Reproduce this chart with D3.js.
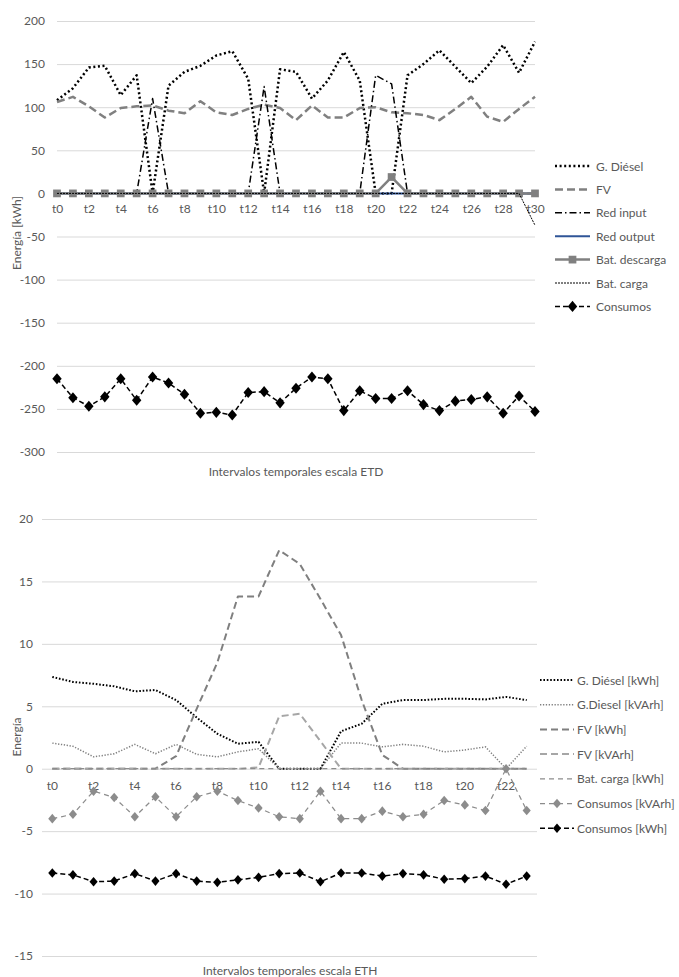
<html>

<head>
    <meta charset="utf-8">
    <script src="https://d3js.org/d3.v7.min.js"></script>
    <style>
        body { margin: 0; background: white; }
        svg text { font-family: Lato, "Open Sans", sans-serif; fill: #595959; }
    </style>
</head>

<body>
    <svg id="chart" width="679" height="977"></svg>
    <script>
        // ---- top chart data (ETD scale, t0..t30) ----
        const etdLabels = d3.range(31).map(i => "t" + i);
        const etdDiesel = [108, 122, 146, 148, 114, 137, 0, 125, 141, 148, 160, 165, 133, 0, 144, 141, 110, 131, 164, 131, 0, 0, 137, 150, 166, 147, 128, 147, 172, 140, 176];
        const etdFV = [106, 112, 101, 88, 99, 101, 102, 96, 93, 107, 94, 91, 98, 103, 99, 85, 102, 88, 88, 99, 100, 94, 93, 91, 85, 98, 112, 89, 83, 98, 112];
        const etdRedIn = [0, 0, 0, 0, 0, 0, 110, 0, 0, 0, 0, 0, 0, 124, 0, 0, 0, 0, 0, 0, 137, 127, 0, 0, 0, 0, 0, 0, 0, 0, 0];
        const etdRedOut = [0, 0, 0, 0, 0, 0, 0, 0, 0, 0, 0, 0, 0, 0, 0, 0, 0, 0, 0, 0, 0, 0, 0, 0, 0, 0, 0, 0, 0, 0, 0];
        const etdBatDes = [0, 0, 0, 0, 0, 0, 0, 0, 0, 0, 0, 0, 0, 0, 0, 0, 0, 0, 0, 0, 0, 19, 0, 0, 0, 0, 0, 0, 0, 0, 0];
        const etdBatCar = [0, 0, 0, 0, 0, 0, 0, 0, 0, 0, 0, 0, 0, 0, 0, 0, 0, 0, 0, 0, 0, 0, 0, 0, 0, 0, 0, 0, 0, 0, -37];
        const etdCons = [-215, -237, -247, -236, -215, -240, -213, -220, -233, -255, -254, -257, -231, -230, -243, -226, -213, -215, -252, -229, -238, -238, -229, -245, -252, -241, -239, -236, -255, -235, -253];
        const etdTicks = [-300, -250, -200, -150, -100, -50, 0, 50, 100, 150, 200];

        // ---- bottom chart data (ETH scale, t0..t23) ----
        const ethLabels = d3.range(24).map(i => "t" + i);
        const ethDieselKWh = [7.35, 6.95, 6.8, 6.6, 6.2, 6.3, 5.5, 4.1, 2.8, 2.0, 2.15, 0, 0, 0, 3.0, 3.6, 5.2, 5.5, 5.5, 5.6, 5.6, 5.55, 5.75, 5.5];
        const ethDieselKVArh = [2.05, 1.8, 0.95, 1.2, 1.95, 1.2, 1.95, 1.15, 0.95, 1.35, 1.6, 0, 0, 0, 2.05, 2.05, 1.75, 1.95, 1.8, 1.35, 1.5, 1.75, 0, 1.8];
        const ethFVKWh = [0, 0, 0, 0, 0, 0, 1.0, 4.8, 8.5, 13.8, 13.8, 17.5, 16.4, 13.6, 10.7, 5.5, 1.1, 0, 0, 0, 0, 0, 0, 0];
        const ethFVKVArh = [0, 0, 0, 0, 0, 0, 0, 0, 0, 0, 0.1, 4.2, 4.4, 2.2, 0, 0, 0, 0, 0, 0, 0, 0, 0, 0];
        const ethBatCar = [0, 0, 0, 0, 0, 0, 0, 0, 0, 0, 0, 0, 0, 0, 0, 0, 0, 0, 0, 0, 0, 0, 0, 0];
        const ethConsKVArh = [-4.0, -3.65, -1.8, -2.3, -3.85, -2.25, -3.85, -2.25, -1.8, -2.55, -3.15, -3.85, -4.0, -1.8, -4.0, -4.0, -3.4, -3.85, -3.65, -2.55, -2.9, -3.35, 0, -3.35];
        const ethConsKWh = [-8.35, -8.5, -9.05, -9.0, -8.4, -9.0, -8.4, -9.0, -9.1, -8.9, -8.7, -8.4, -8.35, -9.05, -8.35, -8.35, -8.6, -8.4, -8.5, -8.85, -8.8, -8.6, -9.25, -8.6];
        const ethTicks = [-15, -10, -5, 0, 5, 10, 15, 20];

        const svg = d3.select("#chart");

        // diamond marker a bit wider than d3.symbolDiamond (Excel style)
        const diamond = {
            draw(ctx, size) {
                const h = Math.sqrt(size) * 0.8, w = h * 0.85;
                ctx.moveTo(0, -h);
                ctx.lineTo(w, 0);
                ctx.lineTo(0, h);
                ctx.lineTo(-w, 0);
                ctx.closePath();
            }
        };

        function drawSeries(g, x, y, labels, s) {
            const line = d3.line()
                .x((d, i) => x(labels[i]))
                .y(d => y(d));
            g.append("path")
                .datum(s.values)
                .attr("d", line)
                .attr("fill", "none")
                .attr("stroke", s.color)
                .attr("stroke-width", s.width)
                .attr("stroke-dasharray", s.dash || null)
                .attr("stroke-linejoin", "round");
            if (s.marker) {
                g.selectAll(null)
                    .data(s.values)
                    .enter()
                    .append("path")
                    .attr("d", d3.symbol().type(s.marker).size(s.markerSize))
                    .attr("transform", (d, i) => `translate(${x(labels[i])},${y(d)})`)
                    .attr("fill", s.color);
            }
        }

        function drawLegend(g, series, x0, y0, step, len, gap) {
            series.forEach((s, i) => {
                const yy = y0 + i * step;
                g.append("line")
                    .attr("x1", x0).attr("x2", x0 + len)
                    .attr("y1", yy).attr("y2", yy)
                    .attr("stroke", s.color)
                    .attr("stroke-width", s.width)
                    .attr("stroke-dasharray", s.dash || null);
                if (s.marker) {
                    g.append("path")
                        .attr("d", d3.symbol().type(s.marker).size(s.markerSize))
                        .attr("transform", `translate(${x0 + len / 2},${yy})`)
                        .attr("fill", s.color);
                }
                g.append("text")
                    .attr("x", x0 + len + gap)
                    .attr("y", yy)
                    .attr("dominant-baseline", "central")
                    .attr("font-size", "12px")
                    .text(s.name);
            });
        }

        // ===== top chart =====
        const topG = svg.append("g");
        const xTop = d3.scalePoint().domain(etdLabels).range([57, 535]);
        const yTop = d3.scaleLinear().domain([-300, 200]).range([452, 21]);

        const yAxisTop = topG.append("g")
            .attr("transform", "translate(57,0)")
            .call(d3.axisLeft(yTop).tickValues(etdTicks).tickFormat(d => String(d))
                .tickSize(-(535 - 57)).tickPadding(12));
        yAxisTop.select(".domain").remove();
        yAxisTop.selectAll("line").attr("stroke", "#d9d9d9");
        yAxisTop.selectAll("text").attr("font-size", "12px").attr("fill", "#595959");

        const xAxisTop = topG.append("g")
            .attr("transform", `translate(0,${yTop(0)})`)
            .call(d3.axisBottom(xTop).tickValues(etdLabels.filter((d, i) => i % 2 === 0)).tickSize(0).tickPadding(11));
        xAxisTop.select(".domain").remove();
        xAxisTop.selectAll("text").attr("font-size", "12px").attr("fill", "#595959");

        const topSeries = [
            { name: "G. Diésel", values: etdDiesel, color: "#000", width: 2.5, dash: "2 2.6" },
            { name: "FV", values: etdFV, color: "#808080", width: 2.5, dash: "8 4" },
            { name: "Red input", values: etdRedIn, color: "#000", width: 1.5, dash: "7 3 1.5 3" },
            { name: "Red output", values: etdRedOut, color: "#2f5597", width: 2 },
            { name: "Bat. descarga", values: etdBatDes, color: "#808080", width: 2.5, marker: d3.symbolSquare, markerSize: 60 },
            { name: "Bat. carga", values: etdBatCar, color: "#000", width: 1, dash: "2 1" },
            { name: "Consumos", values: etdCons, color: "#000", width: 1.5, dash: "5 3", marker: diamond, markerSize: 48 }
        ];
        topSeries.forEach(s => drawSeries(topG, xTop, yTop, etdLabels, s));
        drawLegend(topG, topSeries, 555, 166, 23.4, 35, 6);

        topG.append("text")
            .attr("transform", "translate(21,233) rotate(-90)")
            .attr("text-anchor", "middle")
            .attr("font-size", "12px")
            .text("Energía [kWh]");
        topG.append("text")
            .attr("x", 296).attr("y", 471)
            .attr("text-anchor", "middle")
            .attr("dominant-baseline", "central")
            .attr("font-size", "12px")
            .text("Intervalos temporales escala ETD");

        // ===== bottom chart =====
        const botG = svg.append("g");
        const xBot = d3.scaleBand().domain(ethLabels).range([42, 537]);
        const xBotC = d => xBot(d) + xBot.bandwidth() / 2;
        const yBot = d3.scaleLinear().domain([-15, 20]).range([956, 519]);

        const yAxisBot = botG.append("g")
            .attr("transform", "translate(42,0)")
            .call(d3.axisLeft(yBot).tickValues(ethTicks).tickFormat(d => String(d))
                .tickSize(-(537 - 42)).tickPadding(9));
        yAxisBot.select(".domain").remove();
        yAxisBot.selectAll("line").attr("stroke", "#d9d9d9");
        yAxisBot.selectAll("text").attr("font-size", "12px").attr("fill", "#595959");

        const xAxisBot = botG.append("g")
            .attr("transform", `translate(0,${yBot(0)})`)
            .call(d3.axisBottom(xBot).tickValues(ethLabels.filter((d, i) => i % 2 === 0)).tickSize(0).tickPadding(13));
        xAxisBot.select(".domain").remove();
        xAxisBot.selectAll("text").attr("font-size", "12px").attr("fill", "#595959");

        const botSeries = [
            { name: "G. Diésel [kWh]", values: ethDieselKWh, color: "#000", width: 2, dash: "1.6 1.8" },
            { name: "G.Diesel [kVArh]", values: ethDieselKVArh, color: "#808080", width: 1.5, dash: "1.3 1.6" },
            { name: "FV [kWh]", values: ethFVKWh, color: "#7f7f7f", width: 2, dash: "7 4" },
            { name: "FV [kVArh]", values: ethFVKVArh, color: "#a6a6a6", width: 2, dash: "7 4" },
            { name: "Bat. carga [kWh]", values: ethBatCar, color: "#8c8c8c", width: 1.25, dash: "5 4" },
            { name: "Consumos [kVArh]", values: ethConsKVArh, color: "#8c8c8c", width: 1.25, dash: "5 4", marker: diamond, markerSize: 36 },
            { name: "Consumos [kWh]", values: ethConsKWh, color: "#000", width: 1.5, dash: "5 3", marker: diamond, markerSize: 36 }
        ];
        botSeries.forEach(s => drawSeries(botG, xBotC, yBot, ethLabels, s));
        drawLegend(botG, botSeries, 540, 680, 24.7, 34, 3);

        botG.append("text")
            .attr("transform", "translate(21,737) rotate(-90)")
            .attr("text-anchor", "middle")
            .attr("font-size", "12px")
            .text("Energía");
        botG.append("text")
            .attr("x", 290).attr("y", 970)
            .attr("text-anchor", "middle")
            .attr("dominant-baseline", "central")
            .attr("font-size", "12px")
            .text("Intervalos temporales escala ETH");
    </script>
</body>

</html>
